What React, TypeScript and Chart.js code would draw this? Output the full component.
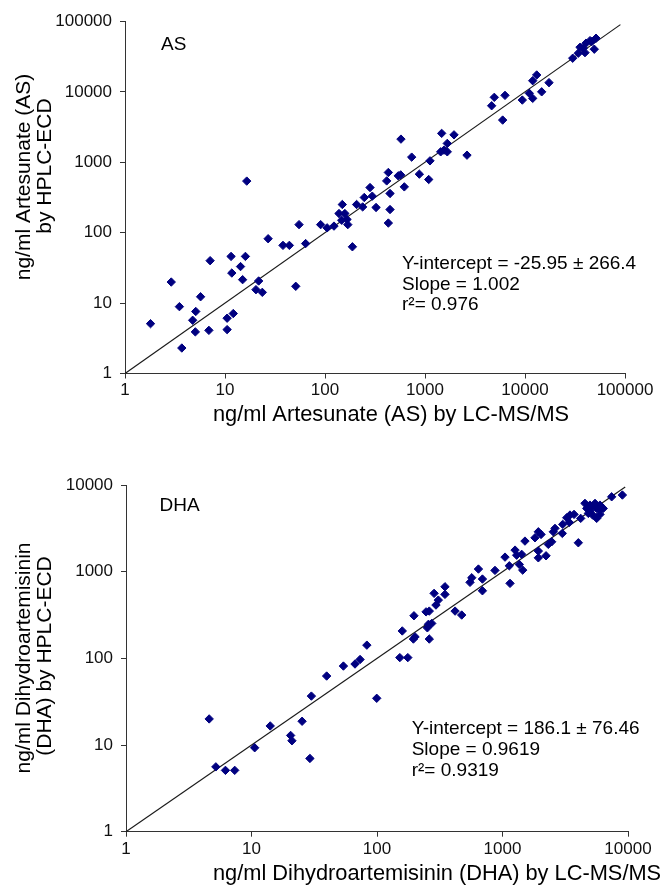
import React, { useEffect, useRef } from 'react';
import { Chart, registerables } from 'chart.js';

Chart.register(...registerables);

const FONT = '"Liberation Sans", Arial, Helvetica, sans-serif';
const MARK = '#000080';

// ---- AS panel data (LC-MS/MS vs HPLC-ECD, ng/ml) ----
const asX = [1.8, 2.9, 3.5, 3.7, 4.75, 5.05, 5.1, 5.7, 6.9, 7.1, 10.5, 10.5, 12.1, 11.5, 11.7, 14.3, 15, 16, 16.5, 20.4, 21.7, 23.6, 27, 38, 44, 51, 55, 64, 90.5, 105, 123, 138, 149, 147, 158, 166, 169, 188, 207, 238, 247, 297, 282, 324, 414, 430, 447, 447, 430, 540, 571, 575, 621, 736, 878, 1089, 1122, 1435, 1549, 1670, 1670, 1468, 1950, 2630, 4640, 4930, 6310, 5980, 9400, 11040, 11940, 13090, 11940, 14680, 17380, 30000, 34100, 35500, 39800, 38300, 40700, 44700, 46400, 51300, 49300];
const asY = [5.1, 19.9, 8.9, 2.3, 5.7, 3.9, 7.6, 12.3, 4.1, 40, 4.2, 6.1, 7.1, 46, 26.7, 33, 21.5, 46, 540, 15.5, 20.6, 14.2, 82, 66, 66, 17.3, 130, 70, 130, 117, 124, 187, 251, 150, 187, 154, 130, 63, 251, 232, 316, 330, 437, 228, 543, 716, 360, 213, 137, 641, 661, 2130, 447, 1182, 677, 569, 1047, 1406, 1486, 1406, 1850, 2570, 2450, 1260, 6340, 8350, 8910, 3970, 7640, 9520, 8070, 17340, 14380, 10000, 13500, 30000, 35300, 42900, 36000, 41600, 49000, 53300, 51600, 57700, 40300];
const asFit = [1, 90000];
const asTicks = [1, 10, 100, 1000, 10000, 100000];
const asStats = ['Y-intercept = -25.95 \u00b1 266.4', 'Slope = 1.002', 'r\u00b2= 0.976'];
const asTitleX = 'ng/ml Artesunate (AS) by LC-MS/MS';
const asTitleY = ['ng/ml Artesunate (AS)', 'by HPLC-ECD'];
const asLabel = 'AS';

// ---- DHA panel data ----
const dhaX = [4.6, 5.2, 6.2, 7.35, 10.6, 14.1, 20.5, 21, 25.3, 29.2, 30, 39.7, 54, 66.8, 73.3, 99.5, 83, 152, 176, 159, 195, 201, 261, 197, 246, 261, 257, 273, 252, 295, 308, 285, 348, 348, 419, 473, 551, 569, 643, 692, 692, 871, 1047, 1133, 1148, 1259, 1297, 1422, 1361, 1449, 1510, 1815, 1930, 2028, 1930, 1930, 2223, 2317, 2465, 2540, 2620, 2995, 3020, 3250, 3450, 3715, 3405, 4020, 4200, 4540, 4690, 4980, 5230, 5630, 5980, 5980, 6350, 5460, 4980, 5630, 5070, 4830, 5980, 7410, 9020];
const dhaY = [20, 5.6, 5.1, 5.1, 9.3, 16.6, 12.9, 11.2, 18.8, 7.0, 36.7, 62.5, 81.5, 86, 97, 34.6, 142, 102, 102, 207, 167, 177, 167, 310, 344, 351, 247, 253, 225, 412, 470, 562, 547, 670, 351, 316, 753, 851, 1072, 822, 602, 1035, 1472, 1169, 733, 1774, 1550, 1585, 1213, 1042, 2254, 2460, 2885, 2690, 1730, 1445, 1525, 2065, 2213, 2885, 3160, 2765, 3515, 4190, 4500, 4580, 3705, 2155, 4120, 6140, 5370, 5000, 4500, 4120, 4580, 5860, 5370, 6140, 5860, 5370, 5610, 4700, 5140, 7310, 7660];
const dhaFit = [1, 9500];
const dhaTicks = [1, 10, 100, 1000, 10000];
const dhaStats = ['Y-intercept = 186.1 \u00b1 76.46', 'Slope = 0.9619', 'r\u00b2= 0.9319'];
const dhaTitleX = 'ng/ml Dihydroartemisinin (DHA) by LC-MS/MS';
const dhaTitleY = ['ng/ml Dihydroartemisinin', '(DHA) by HPLC-ECD'];
const dhaLabel = 'DHA';

type Panel = {
  xs: number[]; ys: number[]; fit: number[]; ticks: number[];
  stats: string[]; titleX: string; titleY: string[]; label: string;
  area: { left: number; right: number; top: number; bottom: number };
  xPad: number;
  labelPos: { x: number; y: number };
  statsPos: { x: number; y: number; step: number };
  titleXPos: { x: number; y: number };
  titleYPos: { x1: number; y1: number; x2: number; y2: number };
};

const W = 662;
const H = 445;

function buildConfig(p: Panel): any {
  const points = p.xs.map((x, i) => ({ x, y: p.ys[i] }));
  const line = p.fit.map((v) => ({ x: v, y: v }));
  const textPlugin = {
    id: 'panelText',
    afterDraw(chart: any) {
      const ctx = chart.ctx as CanvasRenderingContext2D;
      ctx.save();
      ctx.fillStyle = '#000';
      ctx.textBaseline = 'middle';
      ctx.textAlign = 'left';
      ctx.font = `19px ${FONT}`;
      ctx.fillText(p.label, p.labelPos.x, p.labelPos.y);
      ctx.font = `19px ${FONT}`;
      p.stats.forEach((s, i) => ctx.fillText(s, p.statsPos.x, p.statsPos.y + i * p.statsPos.step));
      ctx.font = `21.8px ${FONT}`;
      ctx.fillText(p.titleX, p.titleXPos.x, p.titleXPos.y);
      ctx.font = `21px ${FONT}`;
      ctx.textAlign = 'center';
      const drawRot = (t: string, x: number, y: number) => {
        ctx.save();
        ctx.translate(x, y);
        ctx.rotate(-Math.PI / 2);
        ctx.fillText(t, 0, 0);
        ctx.restore();
      };
      drawRot(p.titleY[0], p.titleYPos.x1, p.titleYPos.y1);
      drawRot(p.titleY[1], p.titleYPos.x2, p.titleYPos.y2);
      ctx.restore();
    },
  };
  const axisCommon = (isX: boolean) => ({
    type: 'logarithmic',
    min: p.ticks[0],
    max: p.ticks[p.ticks.length - 1],
    border: { display: true, color: '#333', width: 1 },
    grid: { display: true, drawOnChartArea: false, drawTicks: true, tickLength: 5, color: '#333', lineWidth: 1 },
    title: { display: false },
    afterBuildTicks: (scale: any) => {
      scale.ticks = p.ticks.map((v) => ({ value: v }));
    },
    afterFit: (scale: any) => {
      if (isX) scale.height = H - p.area.bottom;
      else scale.width = p.area.left;
    },
    ticks: {
      autoSkip: false,
      maxRotation: 0,
      minRotation: 0,
      color: '#111',
      padding: isX ? p.xPad : 8,
      font: { family: FONT, size: 17 },
      callback: (v: any) => String(v),
    },
  });
  return {
    type: 'scatter',
    data: {
      datasets: [
        {
          data: points,
          pointStyle: 'rectRot',
          pointRadius: 4.2,
          pointBackgroundColor: MARK,
          pointBorderColor: MARK,
          pointBorderWidth: 1,
          showLine: false,
        },
        {
          data: line,
          showLine: true,
          pointRadius: 0,
          borderColor: '#1a1a1a',
          borderWidth: 1.2,
          fill: false,
        },
      ],
    },
    options: {
      responsive: false,
      animation: false,
      devicePixelRatio: 1,
      layout: {
        padding: { left: 0, right: W - p.area.right, top: p.area.top, bottom: 0 },
      },
      plugins: { legend: { display: false }, tooltip: { enabled: false }, title: { display: false } },
      scales: { x: axisCommon(true), y: axisCommon(false) },
    },
    plugins: [textPlugin],
  };
}

const asPanel: Panel = {
  xs: asX, ys: asY, fit: asFit, ticks: asTicks, stats: asStats, titleX: asTitleX, titleY: asTitleY, label: asLabel,
  area: { left: 125, right: 625, top: 21.4, bottom: 373.5 },
  xPad: 2,
  labelPos: { x: 161, y: 44.5 },
  statsPos: { x: 402, y: 264, step: 20.3 },
  titleXPos: { x: 213, y: 415 },
  titleYPos: { x1: 24, y1: 177, x2: 45, y2: 166 },
};

const dhaPanel: Panel = {
  xs: dhaX, ys: dhaY, fit: dhaFit, ticks: dhaTicks, stats: dhaStats, titleX: dhaTitleX, titleY: dhaTitleY, label: dhaLabel,
  area: { left: 126, right: 628, top: 40, bottom: 386.7 },
  xPad: 2,
  labelPos: { x: 159.5, y: 60.7 },
  statsPos: { x: 411.7, y: 283.3, step: 21.3 },
  titleXPos: { x: 213, y: 429 },
  titleYPos: { x1: 24, y1: 213, x2: 45, y2: 211 },
};

function PanelChart({ panel, top }: { panel: Panel; top: number }) {
  const ref = useRef<HTMLCanvasElement | null>(null);
  useEffect(() => {
    if (!ref.current) return;
    const chart = new Chart(ref.current, buildConfig(panel));
    return () => chart.destroy();
  }, [panel]);
  return (
    <canvas
      ref={ref}
      width={W}
      height={H}
      style={{ position: 'absolute', left: 0, top, width: W, height: H, display: 'block' }}
    />
  );
}

export default function App() {
  return (
    <div style={{ position: 'absolute', left: 0, top: 0, width: W, height: 890, background: '#fff' }}>
      <PanelChart panel={asPanel} top={0} />
      <PanelChart panel={dhaPanel} top={445} />
    </div>
  );
}
